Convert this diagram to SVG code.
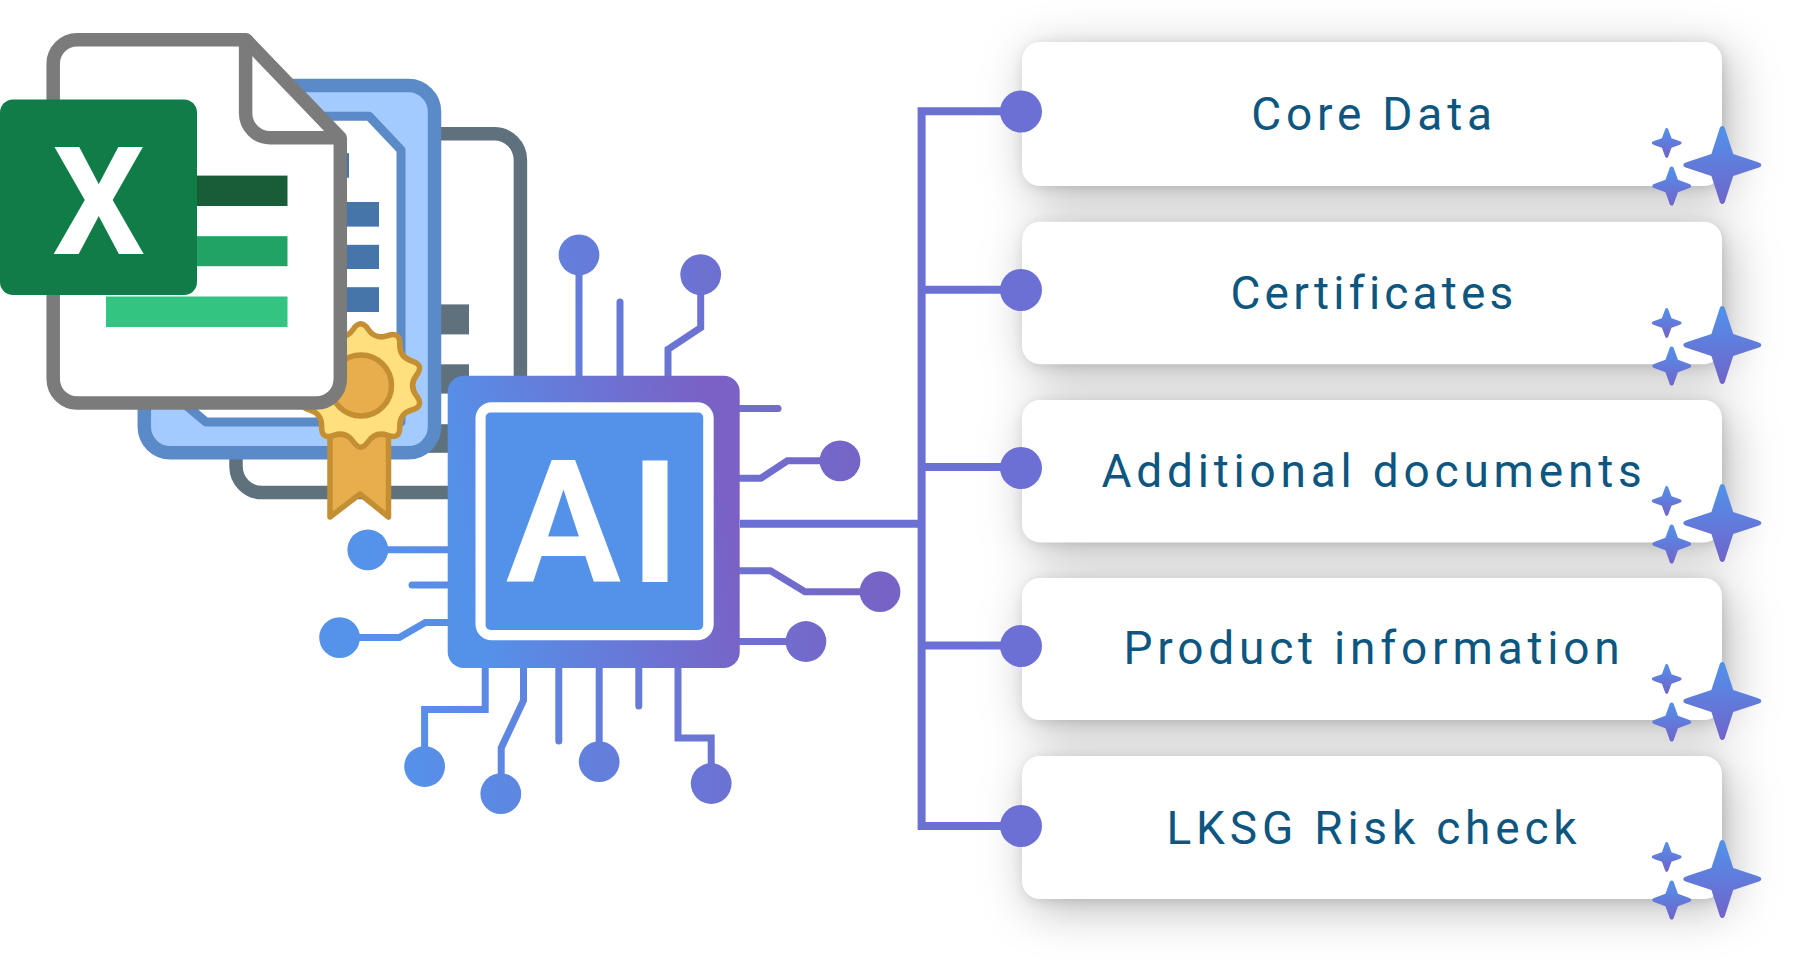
<svg xmlns="http://www.w3.org/2000/svg" width="1817" height="977" viewBox="0 0 1817 977">
<style>
.gs{fill:none;stroke:#5F717C;stroke-width:13.5}
.gb{fill:#5F717C}
.bb{fill:#4575A9}
.wire{fill:none;stroke:url(#wire);stroke-width:7;stroke-linecap:round;stroke-linejoin:miter}
.dot{fill:url(#wire)}
.bus{fill:none;stroke:#6B70D4;stroke-width:8}
.card{fill:#fff}
.cdot{fill:#6C70D4}
.lbl{font-family:Roboto,"Liberation Sans",sans-serif;font-size:46px;letter-spacing:4.8px;fill:#0C5680;text-anchor:middle}
.seal{fill:#E8AE4D;stroke:#C48F33;stroke-width:5.5;stroke-linejoin:round}
</style>
<defs>
<linearGradient id="chipg" gradientUnits="userSpaceOnUse" x1="447" y1="560" x2="740" y2="500"><stop offset="0.05" stop-color="#5492EA"/><stop offset="0.95" stop-color="#7A61C6"/></linearGradient>
<linearGradient id="wire" gradientUnits="userSpaceOnUse" x1="380" y1="600" x2="880" y2="560"><stop offset="0" stop-color="#5592EA"/><stop offset="1" stop-color="#7763C6"/></linearGradient>
<linearGradient id="starg" x1="0" y1="0" x2="0" y2="1"><stop offset="0" stop-color="#5192EC"/><stop offset="1" stop-color="#7164C9"/></linearGradient>
<filter id="soft" x="-20%" y="-20%" width="140%" height="140%"><feGaussianBlur stdDeviation="24"/></filter>
<filter id="tight" x="-10%" y="-10%" width="120%" height="120%"><feGaussianBlur stdDeviation="6"/></filter>
<path id="star" fill="url(#starg)" d="M0-1Q.06-1 .08-.9L.28-.28L.9-.08Q1-.05 1 0Q1 .05.9.08L.28.28L.08.9Q.06 1 0 1Q-.06 1-.08.9L-.28.28L-.9.08Q-1 .05-1 0Q-1-.05-.9-.08L-.28-.28L-.08-.9Q-.06-1 0-1Z"/>
<path id="star2" fill="url(#starg)" d="M0-1Q.1-1 .13-.84L.32-.32L.84-.13Q1-.08 1 0Q1 .08.84.13L.32.32L.13.84Q.1 1 0 1Q-.1 1-.13.84L-.32.32L-.84.13Q-1 .08-1 0Q-1-.08-.84-.13L-.32-.32L-.13-.84Q-.1-1 0-1Z"/>
</defs>
<rect width="1817" height="977" fill="#fff"/>
<g id="card-shadows">
<g fill="#000" fill-opacity=".27" filter="url(#soft)">
<rect x="1030" y="52" width="700" height="144" rx="18"/>
<rect x="1030" y="231" width="700" height="143" rx="18"/>
<rect x="1030" y="410" width="700" height="142" rx="18"/>
<rect x="1030" y="588" width="700" height="142" rx="18"/>
<rect x="1030" y="766" width="700" height="143" rx="18"/>
</g>
<g fill="#000" fill-opacity=".12" filter="url(#tight)">
<rect x="1024" y="44" width="700" height="144" rx="18"/>
<rect x="1024" y="224" width="700" height="142" rx="18"/>
<rect x="1024" y="402" width="700" height="142" rx="18"/>
<rect x="1024" y="580" width="700" height="142" rx="18"/>
<rect x="1024" y="758" width="700" height="143" rx="18"/>
</g>
</g>
<g id="doc-gray">
<rect x="236" y="133.8" width="284.4" height="358.8" rx="26" fill="#fff" class="gs"/>
<rect class="gb" x="400" y="304.4" width="69" height="30"/>
<rect class="gb" x="400" y="364.3" width="69" height="29.3"/>
<rect class="gb" x="400" y="424.2" width="69" height="28.6"/>
</g>
<g id="doc-blue">
<rect x="144.3" y="85.6" width="290.2" height="367.2" rx="26" fill="#A3CBFF" stroke="#5B8AC8" stroke-width="13.5"/>
<path d="M175 116.2H369L401 150V422H206L175 396Z" fill="#fff" stroke="#5B8AC8" stroke-width="9" stroke-linejoin="round"/>
<rect class="bb" x="320" y="153.2" width="29" height="24.5"/>
<rect class="bb" x="320" y="202" width="59" height="24.6"/>
<rect class="bb" x="320" y="244.8" width="59" height="24.2"/>
<rect class="bb" x="320" y="287.2" width="59" height="24.8"/>
</g>
<g id="seal" transform="translate(0 -14.5)">
<path class="seal" d="M330 445V531.5L360 508.5L388.5 531.5V445Z" stroke-width="5"/>
<path d="M368.1 343.7Q375.5 354.4 387.8 350.1Q400.1 345.8 399.8 358.8Q399.5 371.8 411.95 375.55Q424.4 379.3 416.55 389.65Q408.7 400 416.55 410.35Q424.4 420.7 411.95 424.45Q399.5 428.2 399.8 441.2Q400.1 454.2 387.8 449.9Q375.5 445.6 368.1 456.3Q360.7 467 353.3 456.3Q345.9 445.6 333.6 449.9Q321.3 454.2 321.6 441.2Q321.9 428.2 309.45 424.45Q297 420.7 304.85 410.35Q312.7 400 304.85 389.65Q297 379.3 309.45 375.55Q321.9 371.8 321.6 358.8Q321.3 345.8 333.6 350.1Q345.9 354.4 353.3 343.7Q360.7 333 368.1 343.7Z" fill="#FFDF7E" stroke="#C48F33" stroke-width="5.5"/>
<circle class="seal" cx="361" cy="400" r="30.5"/>
</g>
<g id="doc-excel">
<path d="M77.2 39.8H246L340.3 138V379A24 24 0 0 1 316.3 403H77.2A24 24 0 0 1 53.2 379V63.8A24 24 0 0 1 77.2 39.8Z" fill="#fff" stroke="#7B7B7B" stroke-width="13.5" stroke-linejoin="round"/>
<path d="M245.6 40V113A24.4 24.7 0 0 0 270 137.7H340" fill="none" stroke="#7B7B7B" stroke-width="13.5" stroke-linejoin="round"/>
<rect x="190" y="175.6" width="97.5" height="30.4" fill="#195C38"/>
<rect x="190" y="236.2" width="97.5" height="30" fill="#21A366"/>
<rect x="106" y="296.5" width="181.5" height="30.5" fill="#33C481"/>
<rect x="0" y="99.5" width="197" height="195.5" rx="13" fill="#107C47"/>
<text transform="translate(98.8 254) scale(.976 1)" font-family="Roboto,'Liberation Sans',sans-serif" font-weight="700" font-size="150" fill="#fff" text-anchor="middle">X</text>
</g>
<g id="connectors">
<path class="bus" d="M740 523.7H921.6M921.6 107.3V830M917.6 111.3H1025M921.6 289.7H1025M921.6 467H1025M921.6 645.5H1025M917.6 826H1025"/>
<path class="wire" d="M579 380V255"/>
<path class="wire" d="M620 380V302"/>
<path class="wire" d="M668 380V349.3L700.7 327.6V275"/>
<path class="wire" d="M736 408.6H778"/>
<path class="wire" d="M736 478.2H760.9L787.4 460.8H840"/>
<path class="wire" d="M736 570.7H770.5L805 591.7H880"/>
<path class="wire" d="M736 641.5H806"/>
<path class="wire" d="M452 549.8H368"/>
<path class="wire" d="M452 585H412"/>
<path class="wire" d="M452 622.5H425.4L399.3 637.6H340"/>
<path class="wire" d="M485.2 664V709.5H424.6V766"/>
<path class="wire" d="M523.5 664V700.4L501.2 747.9V794"/>
<path class="wire" d="M558.8 664V741"/>
<path class="wire" d="M599.2 664V762"/>
<path class="wire" d="M638.8 664V706"/>
<path class="wire" d="M678 664V738H711.2V784"/>
<circle class="dot" cx="579" cy="254.8" r="20.4"/>
<circle class="dot" cx="700.7" cy="274.6" r="20.4"/>
<circle class="dot" cx="840" cy="460.8" r="20.4"/>
<circle class="dot" cx="880" cy="591.7" r="20.4"/>
<circle class="dot" cx="805.9" cy="641.5" r="20.4"/>
<circle class="dot" cx="367.8" cy="549.8" r="20.4"/>
<circle class="dot" cx="339.6" cy="637.6" r="20.4"/>
<circle class="dot" cx="424.6" cy="766.5" r="20.4"/>
<circle class="dot" cx="500.8" cy="793.7" r="20.4"/>
<circle class="dot" cx="599.2" cy="761.7" r="20.4"/>
<circle class="dot" cx="711.2" cy="783.5" r="20.4"/>
</g>
<g id="chip">
<rect x="447.7" y="375.8" width="292" height="292.2" rx="16" fill="url(#chipg)"/>
<rect x="475.5" y="402.3" width="238.2" height="238" rx="16" fill="#fff"/>
<rect x="485.6" y="412.6" width="217.6" height="217.4" rx="5" fill="#5492E9"/>
<text font-family="Roboto,'Liberation Sans',sans-serif" font-weight="700" font-size="171" fill="#fff" y="581.8" x="506 630">AI</text>
</g>
<g id="node-core-data">
<rect class="card" x="1022" y="42" width="700" height="144" rx="18"/>
<circle class="cdot" cx="1021" cy="111.5" r="21"/>
<text class="lbl" x="1374" y="130">Core Data</text>
<use href="#star" transform="translate(1722.3 165) scale(39)"/>
<use href="#star2" transform="translate(1666.7 143) scale(15)"/>
<use href="#star2" transform="translate(1671.7 186) scale(19.5)"/>
</g>
<g id="node-certificates">
<rect class="card" x="1022" y="221.7" width="700" height="142.5" rx="18"/>
<circle class="cdot" cx="1021" cy="290" r="21"/>
<text class="lbl" x="1374" y="308.7" style="letter-spacing:4.2px">Certificates</text>
<use href="#star" transform="translate(1722.3 345) scale(39)"/>
<use href="#star2" transform="translate(1666.7 323) scale(15)"/>
<use href="#star2" transform="translate(1671.7 366) scale(19.5)"/>
</g>
<g id="node-additional-documents">
<rect class="card" x="1022" y="400" width="700" height="142.4" rx="18"/>
<circle class="cdot" cx="1021" cy="468" r="21"/>
<text class="lbl" x="1374" y="487">Additional documents</text>
<use href="#star" transform="translate(1722.3 523) scale(39)"/>
<use href="#star2" transform="translate(1666.7 501) scale(15)"/>
<use href="#star2" transform="translate(1671.7 544) scale(19.5)"/>
</g>
<g id="node-product-information">
<rect class="card" x="1022" y="578" width="700" height="142" rx="18"/>
<circle class="cdot" cx="1021" cy="646" r="21"/>
<text class="lbl" x="1374" y="664">Product information</text>
<use href="#star" transform="translate(1722.3 701) scale(39)"/>
<use href="#star2" transform="translate(1666.7 679) scale(15)"/>
<use href="#star2" transform="translate(1671.7 722) scale(19.5)"/>
</g>
<g id="node-lksg-risk-check">
<rect class="card" x="1022" y="756" width="700" height="143" rx="18"/>
<circle class="cdot" cx="1021" cy="826" r="21"/>
<text class="lbl" x="1374" y="843.5">LKSG Risk check</text>
<use href="#star" transform="translate(1722.3 879) scale(39)"/>
<use href="#star2" transform="translate(1666.7 857) scale(15)"/>
<use href="#star2" transform="translate(1671.7 900) scale(19.5)"/>
</g>
</svg>
